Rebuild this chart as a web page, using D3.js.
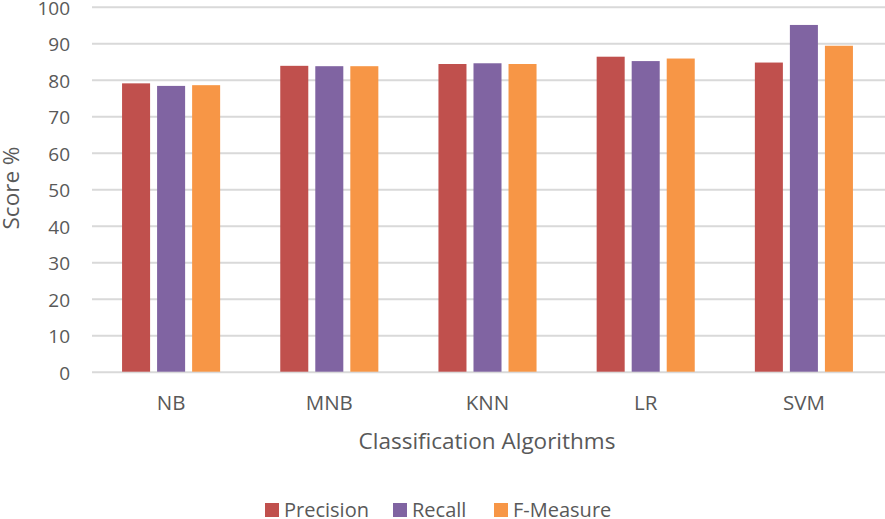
<!DOCTYPE html>
<html lang="en">
<head>
  <meta charset="UTF-8">
  <title>classification scores</title>
  <script src="https://cdn.jsdelivr.net/npm/d3@7"></script>
</head>
<body>
<style>
  * { padding: 0; margin: 0; }
  body { background: #fff; }
  #app { width: 885px; height: 519px; }
  text { font-family: "Open Sans", sans-serif; fill: #595959; }
  .grid line { stroke: #d9d9d9; stroke-width: 2; }
  .grid path { display: none; }
</style>

<div id="app"></div>

<script>
  // data
  const categories = ["NB", "MNB", "KNN", "LR", "SVM"];
  const seriesNames = ["Precision", "Recall", "F-Measure"];
  const precision = [79.0, 83.8, 84.3, 86.3, 84.7];
  const recall = [78.3, 83.7, 84.5, 85.1, 95.0];
  const fMeasure = [78.5, 83.7, 84.3, 85.8, 89.3];
  const yTicks = [0, 10, 20, 30, 40, 50, 60, 70, 80, 90, 100];

  const colors = ["#c0504d", "#8064a2", "#f79646"];
  const seriesValues = [precision, recall, fMeasure];

  const $width = 885, $height = 519;
  const plot = {left: 92, right: 883, top: 6.7, bottom: 371.7};

  const svg = d3.select("#app").append("svg")
    .attr("width", $width).attr("height", $height);

  const scaleX = d3.scaleBand().domain(categories)
    .range([plot.left, plot.right]).paddingInner(0.38).paddingOuter(0.19);

  const scaleS = d3.scaleBand().domain(seriesNames)
    .range([0, scaleX.bandwidth()]).paddingInner(0.2);

  const scaleY = d3.scaleLinear().domain([0, 100]).range([plot.bottom, plot.top]);

  // gridlines
  svg.append("g").classed("grid", true)
    .attr("transform", "translate(" + plot.left + ",0)")
    .call(d3.axisLeft(scaleY).tickValues(yTicks).tickSize(-(plot.right - plot.left + 2)).tickFormat(""));

  // y tick labels
  svg.append("g").selectAll("text").data(yTicks).enter().append("text")
    .attr("x", 70).attr("y", d => scaleY(d) + 1)
    .attr("dy", "0.36em").attr("text-anchor", "end")
    .attr("font-size", 19).text(d => d);

  // bars
  const table = categories.map((c, i) => seriesNames.map((s, j) => ({cat: c, ser: s, v: seriesValues[j][i], j: j})));

  svg.append("g").selectAll("g").data(table).enter().append("g")
    .attr("transform", d => "translate(" + scaleX(d[0].cat) + ",0)")
    .selectAll("rect").data(d => d).enter().append("rect")
    .attr("x", d => scaleS(d.ser))
    .attr("y", d => scaleY(d.v))
    .attr("width", scaleS.bandwidth())
    .attr("height", d => scaleY(0) - scaleY(d.v))
    .attr("fill", d => colors[d.j]);

  // x labels
  svg.append("g").selectAll("text").data(categories).enter().append("text")
    .attr("x", d => scaleX(d) + scaleX.bandwidth() / 2)
    .attr("y", 410).attr("text-anchor", "middle")
    .attr("font-size", 20.5).text(d => d);

  // axis titles
  svg.append("text").attr("x", 487).attr("y", 449)
    .attr("text-anchor", "middle").attr("font-size", 22.5)
    .text("Classification Algorithms");

  svg.append("text").attr("transform", "translate(19,188) rotate(-90)")
    .attr("text-anchor", "middle").attr("font-size", 22.5)
    .text("Score %");

  // legend
  const legendX = [265, 393, 494];
  const legend = svg.append("g").selectAll("g").data(seriesNames).enter().append("g")
    .attr("transform", (d, i) => "translate(" + legendX[i] + ",503)");
  legend.append("rect").attr("width", 14).attr("height", 14).attr("fill", (d, i) => colors[i]);
  legend.append("text").attr("x", 19).attr("y", 14).attr("font-size", 20).text(d => d);
</script>
</body>
</html>
